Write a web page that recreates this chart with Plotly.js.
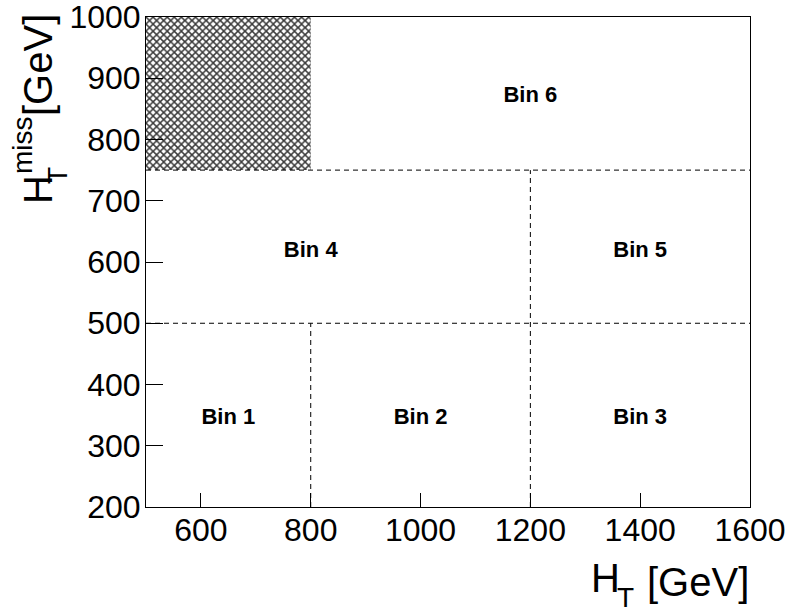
<!DOCTYPE html>
<html>
<head>
<meta charset="utf-8">
<script src="https://cdn.plot.ly/plotly-3.0.1.min.js"></script>
<style>html,body{margin:0;padding:0;background:#fff;}#plot{width:791px;height:612px;}</style>
</head>
<body>
<div id="plot"></div>
<script>
// Bin labels
const binNames = ["Bin 1", "Bin 2", "Bin 3", "Bin 4", "Bin 5", "Bin 6"];
const binX = [650, 1000, 1400, 800, 1400, 1200];
const binY = [345, 345, 345, 617, 617, 870];

// Dashed bin boundaries (horizontal: y, x0, x1; vertical: x, y0, y1)
const hLineY = [750, 500];
const hLineX0 = [500, 500];
const hLineX1 = [1600, 1600];
const vLineX = [800, 1200];
const vLineY0 = [200, 200];
const vLineY1 = [500, 750];

// Excluded (hatched) region corners
const hatchX = [500, 800, 800, 500, 500];
const hatchY = [750, 750, 1000, 1000, 750];

// Axis ticks
const xTicks = [600, 800, 1000, 1200, 1400, 1600];
const yTicks = [200, 300, 400, 500, 600, 700, 800, 900, 1000];

const FONT = "Liberation Sans, Arial, Helvetica, sans-serif";

const traces = [];
traces.push({
  x: hatchX, y: hatchY, mode: "lines", fill: "toself",
  line: {width: 0, color: "rgba(0,0,0,0)"},
  fillcolor: "rgba(0,0,0,0)",
  fillpattern: {shape: "x", size: 5, solidity: 0.5, fgcolor: "#3a3a3a", bgcolor: "#ffffff", fillmode: "replace"},
  hoverinfo: "skip", showlegend: false
});
for (let i = 0; i < hLineY.length; i++) {
  traces.push({x: [hLineX0[i], hLineX1[i]], y: [hLineY[i], hLineY[i]], mode: "lines",
    line: {color: "#000", width: 1, dash: "5px,4px"}, showlegend: false, hoverinfo: "skip"});
}
for (let i = 0; i < vLineX.length; i++) {
  traces.push({x: [vLineX[i], vLineX[i]], y: [vLineY0[i], vLineY1[i]], mode: "lines",
    line: {color: "#000", width: 1, dash: "5px,4px"}, showlegend: false, hoverinfo: "skip"});
}
traces.push({
  x: binX, y: binY, text: binNames, mode: "text", textposition: "middle center",
  textfont: {family: FONT, size: 22, color: "#000", weight: "bold"},
  showlegend: false, hoverinfo: "skip"
});

const W = 604, L = 146, T = 17, H = 490;
function px(p) { return (p - L) / W; }
function py(p) { return (T + H - p) / H; }

const annFont = (s) => ({family: FONT, size: s, color: "#000"});
const annotations = [
  // y title: H_T^miss [GeV]
  {text: "H", x: px(38), y: py(190), textangle: -90, font: annFont(40)},
  {text: "miss", x: px(22), y: py(145), textangle: -90, font: annFont(28)},
  {text: "T", x: px(57), y: py(176), textangle: -90, font: annFont(28)},
  {text: "[GeV]", x: px(38), y: py(65), textangle: -90, font: annFont(40)},
  // x title: H_T [GeV]
  {text: "H", x: px(605), y: py(578), font: annFont(40)},
  {text: "T", x: px(625), y: py(597), font: annFont(28)},
  {text: "[GeV]", x: px(698), y: py(582), font: annFont(40)}
].map(a => Object.assign({xref: "paper", yref: "paper", xanchor: "center", yanchor: "middle", showarrow: false}, a));

const layout = {
  width: 791, height: 612,
  margin: {l: L, r: 791 - L - W, t: T, b: 612 - T - H},
  paper_bgcolor: "#fff", plot_bgcolor: "#fff",
  showlegend: false,
  font: {family: FONT, color: "#000"},
  xaxis: {
    range: [500, 1600], tickmode: "array", tickvals: xTicks,
    ticks: "inside", ticklen: 14, tickwidth: 1, tickcolor: "#000",
    showline: true, linecolor: "#000", linewidth: 1, mirror: true,
    showgrid: false, zeroline: false, ticklabeloverflow: "allow", ticklabelstandoff: -5,
    tickfont: {family: FONT, size: 32, color: "#000"}
  },
  yaxis: {
    range: [200, 1000], tickmode: "array", tickvals: yTicks,
    ticks: "inside", ticklen: 17, tickwidth: 1, tickcolor: "#000",
    showline: true, linecolor: "#000", linewidth: 1, mirror: true,
    showgrid: false, zeroline: false, ticklabeloverflow: "allow", ticklabelstandoff: -2,
    tickfont: {family: FONT, size: 32, color: "#000"}
  },
  annotations: annotations
};

Plotly.newPlot("plot", traces, layout, {staticPlot: true, displayModeBar: false});
</script>
</body>
</html>
